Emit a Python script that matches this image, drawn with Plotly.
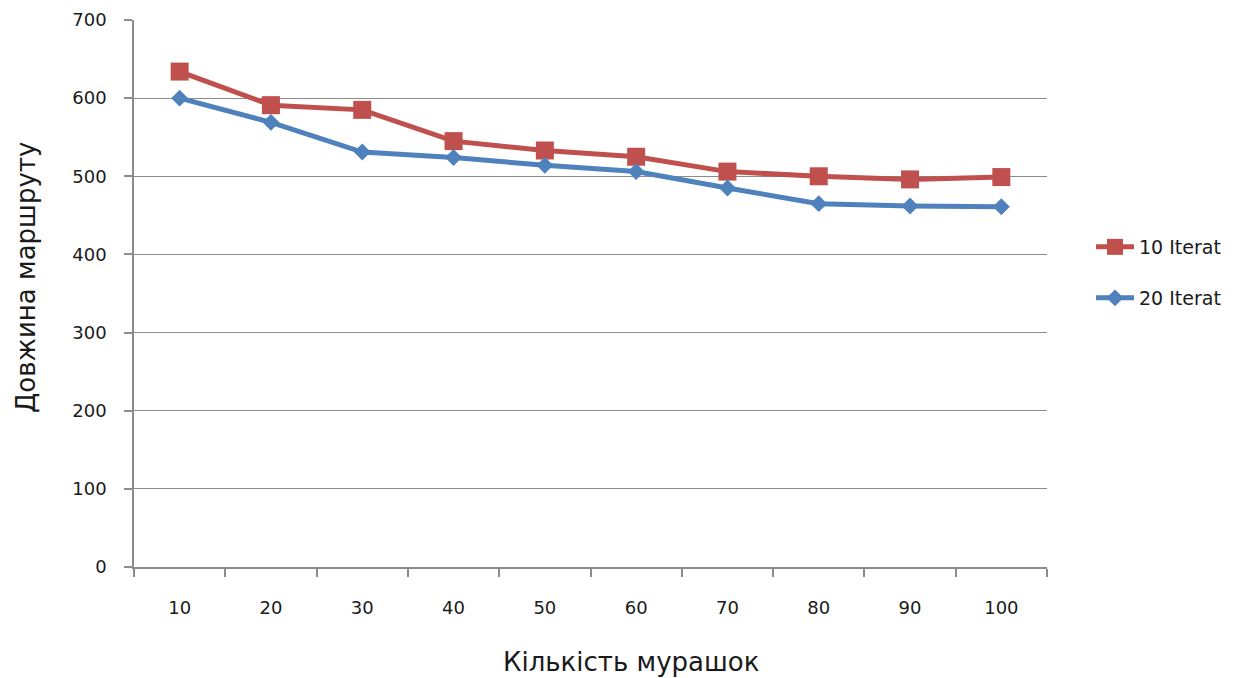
import plotly.graph_objects as go

# Кількість мурашок (categories) and route lengths per iteration setting
ants = ["10", "20", "30", "40", "50", "60", "70", "80", "90", "100"]
iter10 = [634, 591, 585, 545, 533, 525, 506, 500, 496, 499]
iter20 = [600, 569, 531, 524, 514, 506, 485, 465, 462, 461]
y_ticks = [0, 100, 200, 300, 400, 500, 600, 700]

RED = "#C0504D"
BLUE = "#4F81BD"
GRID = "#8C8C8C"
TEXT = "#1a1a1a"
TICK_FONT = dict(family="DejaVu Sans", size=18, color=TEXT)
TITLE_FONT = dict(family="DejaVu Sans", size=26, color=TEXT)

fig = go.Figure()
fig.add_trace(go.Scatter(
    x=ants, y=iter10, name="10 Iterat", mode="lines+markers",
    line=dict(color=RED, width=5),
    marker=dict(symbol="square", size=18, color=RED),
    legend="legend",
))
fig.add_trace(go.Scatter(
    x=ants, y=iter20, name="20 Iterat", mode="lines+markers",
    line=dict(color=BLUE, width=5),
    marker=dict(symbol="diamond", size=13, color=BLUE),
    legend="legend2",
))

legend_style = dict(
    font=dict(family="DejaVu Sans", size=19, color=TEXT),
    bgcolor="rgba(0,0,0,0)", xanchor="left", yanchor="middle",
    itemwidth=38,
)

fig.update_layout(
    width=1245, height=678,
    margin=dict(l=134, r=198, t=20, b=111, autoexpand=False),
    paper_bgcolor="white", plot_bgcolor="white",
    showlegend=True,
    legend=dict(x=(1091 - 134) / 913, y=(567 - 247) / 547, **legend_style),
    legend2=dict(x=(1091 - 134) / 913, y=(567 - 298) / 547, **legend_style),
    xaxis=dict(
        type="category", tickson="boundaries", automargin=False,
        ticks="outside", ticklen=8, tickcolor=GRID, tickwidth=1.5,
        showline=True, linecolor=GRID, linewidth=1.5,
        showgrid=False, tickfont=TICK_FONT, range=[-0.5, 9.5],
        ticklabelstandoff=24,
    ),
    yaxis=dict(
        range=[0, 700], tickvals=y_ticks, automargin=False,
        ticks="outside", ticklen=8, tickcolor=GRID, tickwidth=1.5,
        showline=True, linecolor=GRID, linewidth=1.5,
        showgrid=True, gridcolor=GRID, gridwidth=1.2,
        zeroline=False, tickfont=TICK_FONT, ticklabelstandoff=14,
    ),
    annotations=[
        dict(text="Кількість мурашок", xref="paper", yref="paper",
             x=(631 - 134) / 913, y=-(662 - 567) / 547,
             xanchor="center", yanchor="middle", showarrow=False,
             font=TITLE_FONT),
        dict(text="Довжина маршруту", xref="paper", yref="paper",
             x=-(134 - 26) / 913, y=(567 - 278) / 547, textangle=-90,
             xanchor="center", yanchor="middle", showarrow=False,
             font=TITLE_FONT),
    ],
)

fig.write_html("out.html")
